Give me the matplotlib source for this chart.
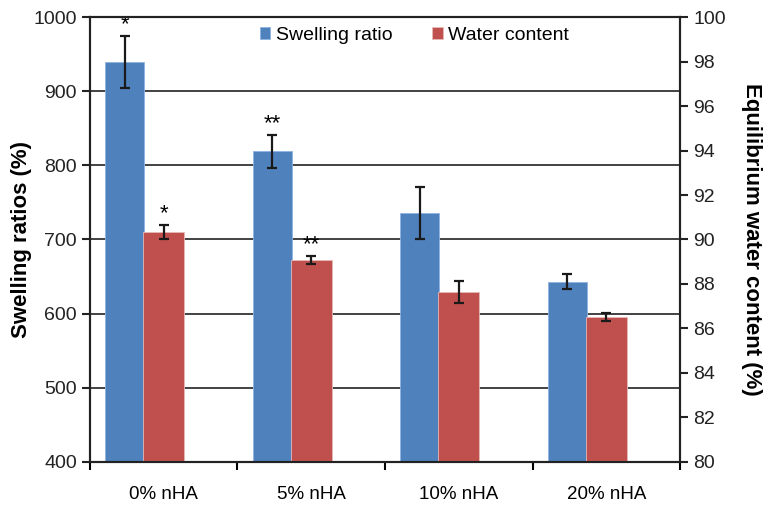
import matplotlib.pyplot as plt
import numpy as np

plt.rcParams['font.family'] = ['Liberation Sans', 'DejaVu Sans']

# data
groups = ['0% nHA', '5% nHA', '10% nHA', '20% nHA']
swelling = [939, 819, 736, 643]
swelling_err = [35, 22, 35, 10]
water = [90.32, 89.08, 87.65, 86.50]
water_err = [0.32, 0.17, 0.50, 0.18]
swelling_marks = ['*', '**', '', '']
water_marks = ['*', '**', '', '']

blue = '#4F81BD'
red = '#C0504D'

fig = plt.figure(figsize=(7.73, 5.08), dpi=100)
ax1 = fig.add_axes([0.1164, 0.0906, 0.7633, 0.8759])
ax2 = ax1.twinx()

x = np.arange(len(groups))

ax1.set_ylim(400, 1000)
ax1.set_yticks(np.arange(400, 1001, 100))
ax1.grid(axis='y', color='#222222', lw=1.2)
ax1.set_axisbelow(True)
b1 = ax1.bar(x - 0.265, swelling, width=0.265, color=blue, edgecolor='#8db3e2', lw=0.6,
             label='Swelling ratio', zorder=2)
ax1.errorbar(x - 0.265, swelling, yerr=swelling_err, fmt='none', ecolor='#1a1a1a',
             elinewidth=1.6, capsize=3.5, capthick=1.6, zorder=3)
for xi, v, e, m in zip(x, swelling, swelling_err, swelling_marks):
    if m:
        ax1.text(xi - 0.265, v + e + 1, m, ha='center', va='bottom', fontsize=16)

ax2.set_ylim(80, 100)
ax2.set_yticks(np.arange(80, 101, 2))
b2 = ax2.bar(x, water, width=0.275, color=red, edgecolor='#e6b9b8', lw=0.6,
             label='Water content', zorder=2)
ax2.errorbar(x, water, yerr=water_err, fmt='none', ecolor='#1a1a1a',
             elinewidth=1.6, capsize=3.5, capthick=1.6, zorder=3)
for xi, v, e, m in zip(x, water, water_err, water_marks):
    if m:
        ax2.text(xi, v + e + 0.03, m, ha='center', va='bottom', fontsize=16)

ax1.set_xlim(-0.5, 3.5)
ax1.set_xticks(x)
ax1.set_xticklabels(groups, fontsize=13.5)
ax1.set_xticks(np.arange(-0.5, 3.6, 1), minor=True)
ax1.tick_params(axis='x', which='major', length=0, pad=17)
ax1.tick_params(axis='x', which='minor', length=6, width=1.5, direction='out')
ax1.tick_params(axis='y', labelsize=14, length=6, width=1.5, direction='out', colors='#222222')
ax2.tick_params(axis='y', labelsize=14, length=6, width=1.5, direction='out', colors='#222222')

for ax in (ax1, ax2):
    for s in ax.spines.values():
        s.set_color('#222222')
        s.set_linewidth(1.5)

ax1.set_ylabel('Swelling ratios (%)', fontsize=16, fontweight='bold', labelpad=1)
ax2.set_ylabel('Equilibrium water content (%)', fontsize=16, fontweight='bold',
               rotation=270, labelpad=26)

ax1.legend([b1, b2], ['Swelling ratio', 'Water content'], loc='center', bbox_to_anchor=(0.55, 0.958),
           ncol=2, frameon=False, fontsize=14, handlelength=0.55, handleheight=0.55,
           handletextpad=0.3, columnspacing=2.0)

fig.savefig('out.png', dpi=100)
